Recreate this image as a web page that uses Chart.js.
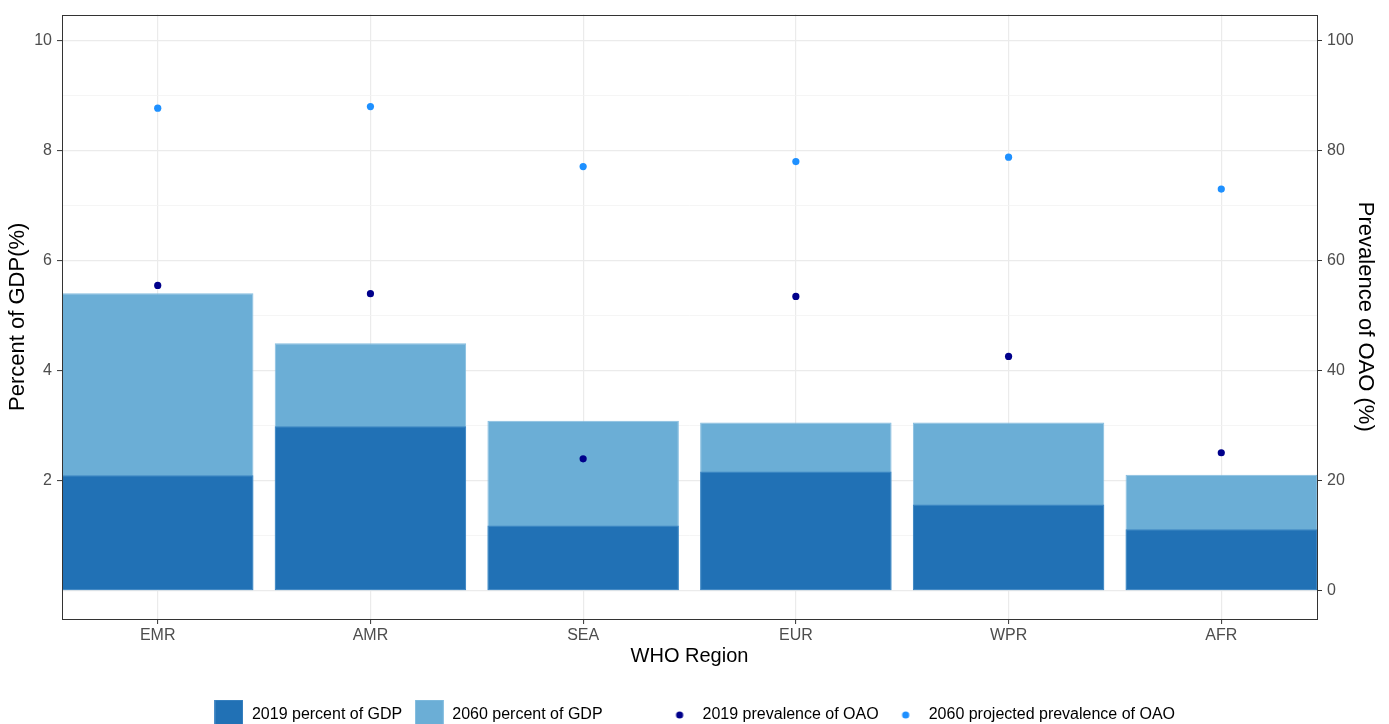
<!DOCTYPE html>
<html>
<head>
<meta charset="utf-8">
<script src="https://cdn.jsdelivr.net/npm/chart.js@4"></script>
<style>
  html, body { margin: 0; padding: 0; background: #fff; overflow: hidden; }
  #wrap { width: 1389px; height: 733px; position: relative; }
</style>
</head>
<body>
<div id="wrap"><canvas id="chart"></canvas></div>
<script>
const regions = ['EMR', 'AMR', 'SEA', 'EUR', 'WPR', 'AFR'];
const gdp2019 = [2.10, 2.99, 1.19, 2.17, 1.57, 1.12];
const gdp2060 = [5.41, 4.50, 3.09, 3.06, 3.06, 2.11];
const prev2019 = [55.5, 54.0, 24.0, 53.5, 42.6, 25.1];
const prev2060 = [87.7, 88.0, 77.1, 78.0, 78.8, 73.0];
const gdpTicks = [0, 1, 2, 3, 4, 5, 6, 7, 8, 9, 10];
const prevTicks = [0, 20, 40, 60, 80, 100];

const FONT = '"Liberation Sans", Arial, sans-serif';

const toPoints = (values) => values.map((y, x) => ({ x, y }));

// small canvases used as legend keys
const makeBox = (fill, edge) => {
  const c = document.createElement('canvas');
  c.width = 29;
  c.height = 31;
  const g = c.getContext('2d');
  g.fillStyle = edge;
  g.fillRect(0, 0, 29, 31);
  g.fillStyle = fill;
  g.fillRect(1, 1, 27, 29);
  return c;
};
const makeDot = (fill) => {
  const c = document.createElement('canvas');
  c.width = 10;
  c.height = 10;
  const g = c.getContext('2d');
  g.fillStyle = fill;
  g.beginPath();
  g.arc(5, 5, 3.6, 0, Math.PI * 2);
  g.fill();
  return c;
};
const blank = document.createElement('canvas');
blank.width = 1;
blank.height = 1;

const panelBorder = {
  id: 'panelBorder',
  afterDraw(chart) {
    const { ctx, chartArea: a } = chart;
    ctx.save();
    ctx.strokeStyle = '#333333';
    ctx.lineWidth = 1;
    ctx.strokeRect(Math.round(a.left) + 0.5, Math.round(a.top) + 0.5, Math.round(a.right - a.left), Math.round(a.bottom - a.top));
    ctx.restore();
  },
};

new Chart(document.getElementById('chart'), {
  type: 'bar',
  data: {
    datasets: [
      {
        label: '2019 percent of GDP',
        data: toPoints(gdp2019),
        backgroundColor: '#2171b5',
        borderColor: '#3d85c3',
        borderWidth: 1,
        borderSkipped: false,
        grouped: false,
        barPercentage: 0.9,
        categoryPercentage: 1,
        order: 2,
        key: makeBox('#2171b5', '#4a8dc8'),
      },
      {
        label: '2060 percent of GDP',
        data: toPoints(gdp2060),
        backgroundColor: '#6baed6',
        borderColor: '#85bde0',
        borderWidth: 1,
        borderSkipped: false,
        grouped: false,
        barPercentage: 0.9,
        categoryPercentage: 1,
        order: 3,
        key: makeBox('#6baed6', '#8cc2e2'),
      },
      {
        type: 'line',
        label: '2019 prevalence of OAO',
        data: toPoints(prev2019),
        yAxisID: 'y2',
        showLine: false,
        pointRadius: 3.6,
        pointBorderWidth: 0,
        pointBackgroundColor: '#00008b',
        order: 0,
        key: makeDot('#00008b'),
      },
      {
        type: 'line',
        label: '2060 projected prevalence of OAO',
        data: toPoints(prev2060),
        yAxisID: 'y2',
        showLine: false,
        pointRadius: 3.6,
        pointBorderWidth: 0,
        pointBackgroundColor: '#1e90ff',
        order: 1,
        key: makeDot('#1e90ff'),
      },
    ],
  },
  options: {
    responsive: true,
    maintainAspectRatio: false,
    animation: false,
    layout: { padding: { top: 13, left: 0, right: 0, bottom: 0 } },
    plugins: {
      tooltip: { enabled: false },
      legend: {
        position: 'bottom',
        labels: {
          usePointStyle: true,
          pointStyleWidth: 30,
          boxHeight: 16,
          padding: 12,
          color: '#000',
          font: { family: FONT, size: 16 },
          generateLabels: (chart) => {
            const items = chart.data.datasets.map((ds, i) => ({
              text: ds.label,
              fillStyle: ds.backgroundColor || ds.pointBackgroundColor,
              strokeStyle: 'transparent',
              lineWidth: 0,
              pointStyle: ds.key,
              hidden: false,
              datasetIndex: i,
            }));
            // gap between the fill legend and the colour legend
            items.splice(2, 0, { text: '', fillStyle: 'transparent', strokeStyle: 'transparent', lineWidth: 0, pointStyle: blank, hidden: false });
            return items;
          },
        },
        onClick: () => {},
      },
    },
    scales: {
      x: {
        type: 'linear',
        offset: false,
        min: -0.45,
        max: 5.45,
        afterBuildTicks: (scale) => {
          scale.ticks = regions.map((_, i) => ({ value: i }));
        },
        afterFit: (scale) => {
          scale.height = 76;
        },
        ticks: {
          autoSkip: false,
          maxRotation: 0,
          padding: 2,
          color: '#4d4d4d',
          font: { family: FONT, size: 16 },
          callback: (value) => regions[value],
        },
        grid: { offset: false, color: '#ebebeb', lineWidth: 1.2, tickColor: '#333333', tickLength: 5, tickWidth: 1 },
        border: { display: false },
        title: {
          display: true,
          text: 'WHO Region',
          color: '#000',
          font: { family: FONT, size: 20 },
          padding: { top: 0, bottom: 27 },
        },
      },
      y: {
        position: 'left',
        min: -0.51,
        max: 10.47,
        afterBuildTicks: (scale) => {
          scale.ticks = gdpTicks.map((value) => ({ value }));
        },
        afterFit: (scale) => {
          scale.width = 62;
        },
        ticks: {
          padding: 5,
          color: '#4d4d4d',
          font: { family: FONT, size: 16 },
          callback: (value) => (value >= 2 && value % 2 === 0 ? String(value) : ''),
        },
        grid: {
          color: (ctx) => (ctx.tick && ctx.tick.value % 2 === 0 ? '#ebebeb' : '#f3f3f3'),
          lineWidth: (ctx) => (ctx.tick && ctx.tick.value % 2 === 0 ? 1.2 : 0.8),
          tickColor: (ctx) => (ctx.tick && ctx.tick.value >= 2 && ctx.tick.value % 2 === 0 ? '#333333' : 'transparent'),
          tickLength: 5,
          tickWidth: 1,
        },
        border: { display: false },
        title: {
          display: true,
          text: 'Percent of GDP(%)',
          color: '#000',
          font: { family: FONT, size: 22 },
          padding: { top: 5, bottom: 0 },
        },
      },
      y2: {
        position: 'right',
        min: -5.1,
        max: 104.7,
        afterBuildTicks: (scale) => {
          scale.ticks = prevTicks.map((value) => ({ value }));
        },
        afterFit: (scale) => {
          scale.width = 72;
        },
        ticks: {
          padding: 5,
          color: '#4d4d4d',
          font: { family: FONT, size: 16 },
        },
        grid: { drawOnChartArea: false, tickColor: '#333333', tickLength: 5, tickWidth: 1 },
        border: { display: false },
        title: {
          display: true,
          text: 'Prevalence of OAO (%)',
          color: '#000',
          font: { family: FONT, size: 22 },
          padding: { top: 11, bottom: 0 },
        },
      },
    },
  },
  plugins: [panelBorder],
});
</script>
</body>
</html>
